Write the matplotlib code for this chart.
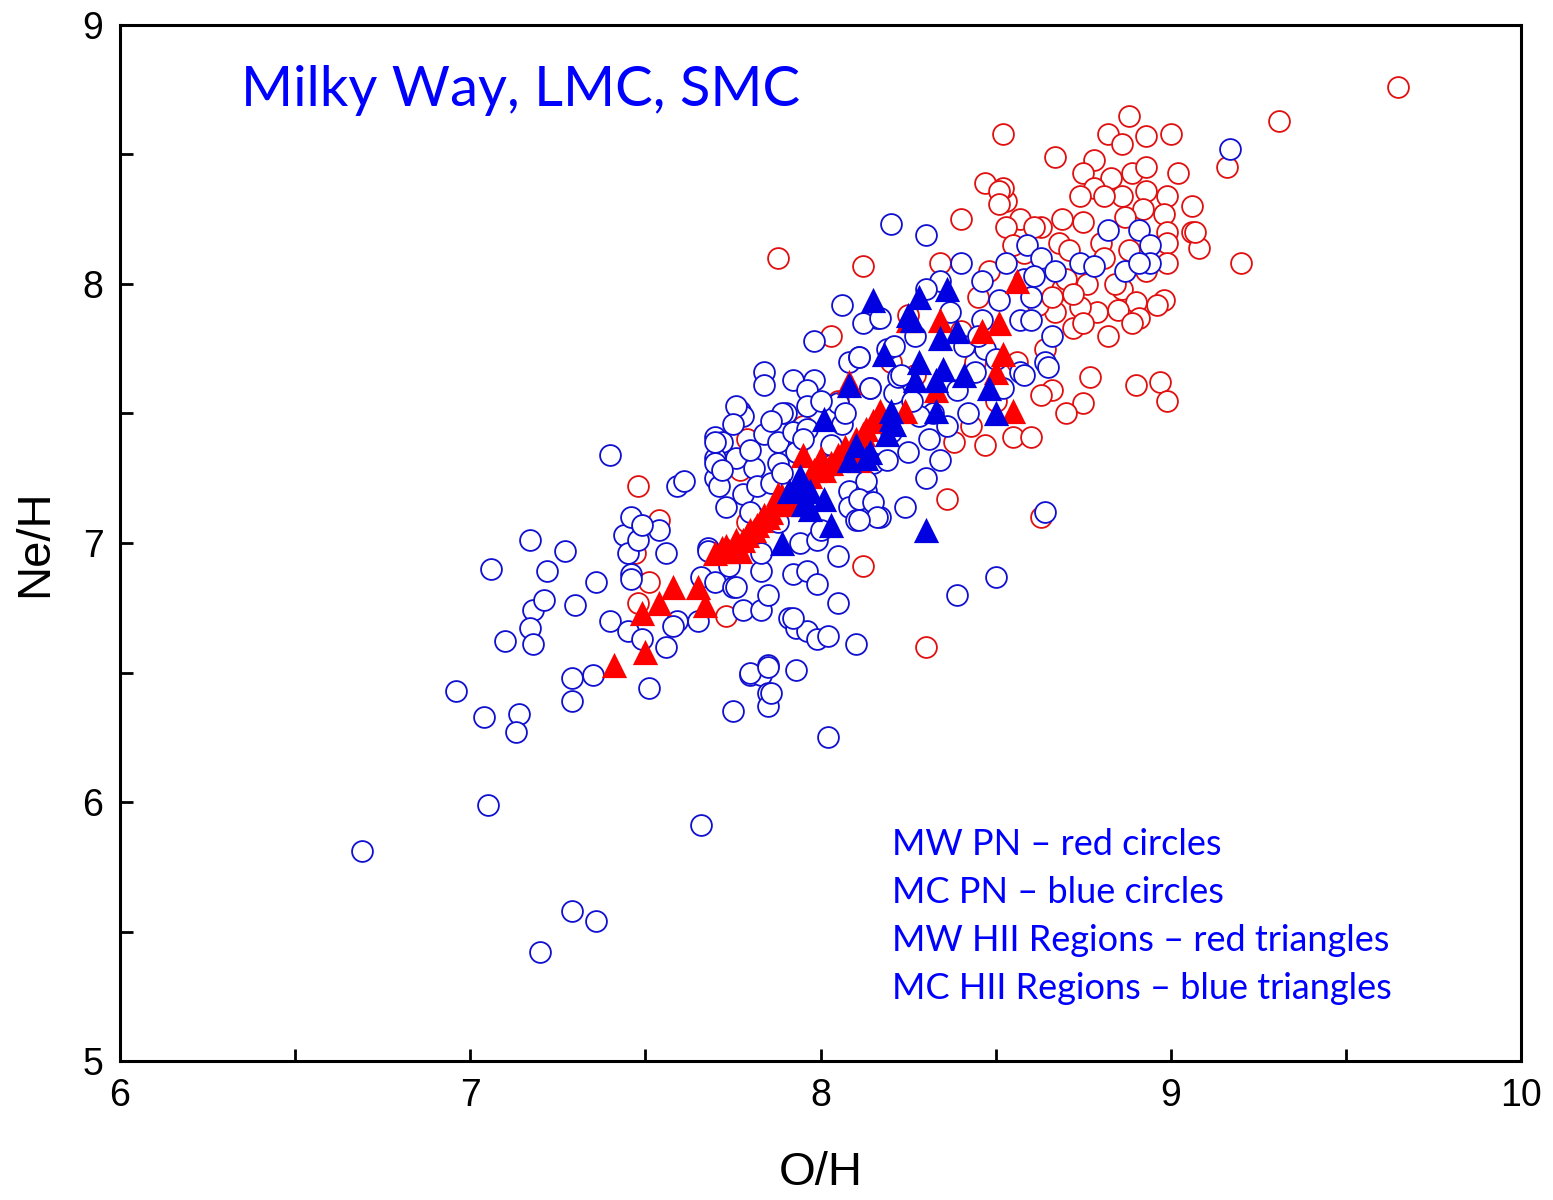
import numpy as np
import matplotlib.pyplot as plt
from matplotlib.ticker import MultipleLocator

# MW PN - red circles (O/H, Ne/H)
mw_pn_oh = [8.88, 8.82, 8.93, 9.00, 8.52, 8.67, 8.86, 8.78, 8.75, 8.83, 8.89, 8.93, 9.02,
            8.78, 8.93, 8.86, 8.74, 8.81, 8.99, 9.06, 8.98, 8.92, 8.87, 8.69, 8.63, 8.75,
            9.06, 8.99, 8.99, 9.08, 8.99, 9.20, 8.80, 8.68, 8.71, 8.88, 8.76, 8.86, 8.69,
            8.98, 8.96, 8.90, 8.85, 8.79, 8.74, 8.91, 8.89, 8.72, 8.75, 8.67, 8.77, 8.90,
            8.97, 8.99, 8.66, 8.75, 8.70, 8.55, 8.60, 8.57, 8.61, 8.53, 8.53, 8.52, 9.65,
            9.31, 9.16, 9.07, 7.88, 8.12, 8.40, 8.47, 8.51, 8.51, 7.48, 7.54, 7.48, 7.51,
            7.47, 7.73, 7.79, 7.77, 7.79, 8.12, 8.30, 8.63, 8.36, 8.38, 8.47, 8.03, 8.34,
            8.25, 8.40, 8.63, 8.45, 8.58, 8.70, 8.81, 8.84, 8.64, 8.56, 8.44, 8.62, 8.72,
            8.82, 8.93, 8.48, 8.55, 8.66, 8.20, 8.27, 8.43, 8.50, 7.95, 8.05]
mw_pn_neh = [8.65, 8.58, 8.57, 8.58, 8.58, 8.49, 8.54, 8.48, 8.43, 8.41, 8.43, 8.45, 8.43,
             8.37, 8.36, 8.34, 8.34, 8.34, 8.34, 8.30, 8.27, 8.29, 8.26, 8.25, 8.22, 8.24,
             8.20, 8.20, 8.16, 8.14, 8.08, 8.08, 8.16, 8.16, 8.13, 8.13, 8.00, 7.98, 7.98,
             7.94, 7.92, 7.93, 7.90, 7.89, 7.91, 7.87, 7.85, 7.83, 7.85, 7.89, 7.64, 7.61,
             7.62, 7.55, 7.59, 7.54, 7.50, 7.41, 7.41, 8.25, 8.22, 8.22, 8.32, 8.37, 8.76,
             8.63, 8.45, 8.20, 8.10, 8.07, 8.25, 8.39, 8.36, 8.31, 7.22, 7.09, 6.77, 6.85,
             6.96, 6.72, 7.40, 7.28, 7.08, 6.91, 6.60, 7.10, 7.17, 7.39, 7.38, 7.80, 8.08,
             7.88, 7.82, 7.57, 7.95, 8.12, 8.02, 8.10, 8.00, 7.75, 7.70, 7.70, 7.92, 7.96,
             7.80, 8.05, 8.05, 8.15, 7.95, 7.70, 7.65, 7.45, 7.55, 7.45, 7.55]

# MC PN - blue circles
mc_pn_oh = [6.69, 6.96, 7.04, 7.05, 7.06, 7.10, 7.14, 7.13, 7.17, 7.18, 7.17, 7.18, 7.21,
            7.22, 7.20, 7.27, 7.29, 7.29, 7.30, 7.29, 7.36, 7.36, 7.35, 7.40, 7.40, 7.44,
            7.45, 7.46, 7.46, 7.48, 7.45, 7.51, 7.54, 7.56, 7.56, 7.59, 7.59, 7.61, 7.66,
            7.65, 7.66, 7.75, 7.80, 7.83, 7.85, 7.85, 7.85, 7.93, 7.91, 7.93, 7.96, 7.99,
            8.02, 8.02, 8.05, 8.10, 8.39, 8.50, 8.64, 9.17, 8.20, 8.30,
            8.06, 8.16, 7.98, 7.84, 7.84, 7.92, 7.98, 7.96, 8.08, 8.11, 8.19, 7.77, 7.78,
            7.90, 7.96, 8.05, 8.14, 7.70, 7.72, 7.84, 7.88, 7.92, 7.96, 7.70, 7.76, 7.81,
            7.88, 7.93, 7.70, 7.71, 7.78, 7.82, 7.86, 7.73, 7.80, 8.08, 8.13, 8.08, 8.17,
            8.10, 7.94, 7.99, 7.68,
            8.40, 8.53, 8.59, 8.63, 8.46, 8.51, 8.58, 8.60, 8.34, 8.30, 8.37, 8.12, 8.17,
            8.57, 8.60, 8.46, 8.11, 8.21, 8.41, 8.47, 8.50, 8.57, 8.64, 8.14, 8.21, 8.39,
            8.44, 8.42, 8.32, 8.28, 8.20, 8.31, 8.25, 8.34, 8.15, 8.19, 8.30, 8.13, 8.11,
            8.15, 8.24, 8.16, 8.11,
            8.82, 8.91, 8.94, 8.74, 8.78, 8.87, 8.94, 8.91, 8.67, 8.61, 8.66, 8.65, 8.58,
            7.49, 7.46, 7.49, 7.58, 7.70, 7.70, 7.89, 7.76, 7.68, 7.70, 7.75, 7.76, 7.74,
            7.83, 7.78, 7.83, 7.85, 7.92, 7.80, 7.85, 7.86, 7.83, 7.92, 7.96, 7.99, 7.72,
            7.75, 7.80, 7.86, 7.89, 8.03, 8.06, 7.88, 8.00, 8.22, 8.26, 8.36, 8.45, 8.52,
            8.03, 8.07, 8.23, 8.27, 8.05, 8.00, 7.95]
mc_pn_neh = [5.81, 6.43, 6.33, 5.99, 6.90, 6.62, 6.34, 6.27, 7.01, 6.74, 6.67, 6.61, 6.78,
             6.89, 5.42, 6.97, 6.48, 6.39, 6.76, 5.58, 5.54, 6.85, 6.49, 7.34, 6.70, 7.03,
             6.96, 6.88, 7.10, 7.01, 6.66, 6.44, 7.05, 6.96, 6.60, 6.70, 7.22, 7.24, 5.91,
             6.70, 6.87, 6.35, 6.49, 6.49, 6.53, 6.42, 6.37, 6.51, 6.71, 6.67, 6.66, 6.63,
             6.64, 6.25, 6.77, 6.61, 6.80, 6.87, 7.12, 8.52, 8.23, 8.19,
             7.92, 7.87, 7.78, 7.66, 7.61, 7.63, 7.63, 7.59, 7.70, 7.72, 7.75, 7.51, 7.49,
             7.50, 7.53, 7.54, 7.60, 7.41, 7.39, 7.42, 7.39, 7.43, 7.44, 7.33, 7.33, 7.29,
             7.31, 7.35, 7.25, 7.22, 7.19, 7.22, 7.23, 7.14, 7.12, 7.20, 7.20, 7.14, 7.10,
             7.09, 7.00, 7.01, 6.98,
             8.08, 8.08, 8.15, 8.10, 8.01, 7.94, 8.02, 7.95, 8.01, 7.98, 7.89, 7.85, 7.87,
             7.86, 7.86, 7.86, 7.72, 7.76, 7.76, 7.75, 7.71, 7.66, 7.70, 7.60, 7.58, 7.59,
             7.66, 7.50, 7.50, 7.49, 7.43, 7.40, 7.35, 7.32, 7.31, 7.32, 7.25, 7.24, 7.17,
             7.16, 7.14, 7.10, 7.09,
             8.21, 8.21, 8.15, 8.08, 8.07, 8.05, 8.08, 8.08, 8.05, 8.03, 7.80, 7.68, 7.65,
             7.07, 6.86, 6.63, 6.68, 7.39, 7.31, 7.50, 7.53, 6.97, 6.85, 6.83, 6.83, 6.91,
             6.89, 6.74, 6.74, 6.80, 6.71, 6.50, 6.52, 6.42, 6.96, 6.88, 6.89, 6.84, 7.28,
             7.46, 7.36, 7.47, 7.27, 7.38, 7.46, 7.08, 7.55, 7.64, 7.55, 7.45, 7.80, 7.60,
             7.30, 7.50, 7.65, 7.80, 6.95, 7.05, 7.40]

# MW HII regions - red triangles
mw_hii_oh = [7.41, 7.50, 7.49, 7.54, 7.58, 7.65, 7.67, 7.72, 7.74, 7.77, 7.76, 7.78, 7.81,
             7.83, 7.86, 7.87, 7.89, 7.91, 7.94, 7.98, 8.00, 8.01, 8.03, 8.07, 8.10, 8.08,
             8.13, 8.15, 8.17, 8.24, 8.25, 8.33, 8.34, 8.46, 8.51, 8.50, 8.52, 8.55, 8.56,
             8.11, 7.95, 7.92, 7.88, 7.84, 7.80,
             7.70, 7.73, 7.79, 7.82, 7.85, 7.90, 7.93, 7.97, 8.00, 8.05, 8.12, 8.16]
mw_hii_neh = [6.53, 6.58, 6.73, 6.77, 6.83, 6.83, 6.76, 6.98, 6.97, 6.97, 7.01, 7.01, 7.05,
              7.09, 7.12, 7.15, 7.18, 7.20, 7.24, 7.28, 7.33, 7.28, 7.31, 7.37, 7.40, 7.62,
              7.44, 7.47, 7.51, 7.51, 7.86, 7.59, 7.86, 7.82, 7.85, 7.66, 7.73, 7.51, 8.01,
              7.32, 7.34, 7.15, 7.19, 7.11, 7.05,
              6.96, 6.99, 7.03, 7.07, 7.10, 7.16, 7.22, 7.26, 7.30, 7.34, 7.42, 7.48]

# MC HII regions - blue triangles
mc_hii_oh = [8.15, 8.26, 8.28, 8.36, 8.18, 8.25, 8.39, 8.34, 8.28, 8.35, 8.33, 8.27, 8.41,
             8.48, 8.50, 8.33, 8.20, 8.20, 8.21, 8.19, 8.10, 8.14, 8.13, 8.08, 8.01, 7.94,
             7.97, 7.91, 7.95, 7.97, 8.01, 8.03, 7.89, 8.30, 8.08, 7.94]
mc_hii_neh = [7.94, 7.86, 7.95, 7.98, 7.73, 7.88, 7.82, 7.79, 7.70, 7.67, 7.63, 7.63, 7.65,
              7.60, 7.50, 7.51, 7.51, 7.48, 7.46, 7.42, 7.38, 7.35, 7.33, 7.32, 7.48, 7.22,
              7.20, 7.20, 7.15, 7.13, 7.17, 7.07, 7.00, 7.05, 7.61, 7.26]

fig = plt.figure(figsize=(15.53, 12), dpi=100)
ax = fig.add_axes([0.0773, 0.1158, 0.9021, 0.8634])

circ = dict(marker='o', s=225, facecolors='white', linewidths=1.3)
ax.scatter(mw_pn_oh, mw_pn_neh, edgecolors='#e01010', **circ)
ax.scatter(mc_pn_oh, mc_pn_neh, edgecolors='#1010d0', **circ)
ax.scatter(mw_hii_oh, mw_hii_neh, marker='^', s=330, color='#ff0000', linewidths=0)
ax.scatter(mc_hii_oh, mc_hii_neh, marker='^', s=330, color='#0000e0', linewidths=0)

ax.set_xlim(6, 10)
ax.set_ylim(5, 9)
ax.xaxis.set_major_locator(MultipleLocator(1))
ax.xaxis.set_minor_locator(MultipleLocator(0.5))
ax.yaxis.set_major_locator(MultipleLocator(1))
ax.yaxis.set_minor_locator(MultipleLocator(0.5))
ax.tick_params(which='both', direction='in', width=2, labelsize=27,
               labelfontfamily='Liberation Sans')
ax.tick_params(which='major', length=9, pad=12)
ax.tick_params(which='minor', length=9)
for sp in ax.spines.values():
    sp.set_linewidth(2.2)

ax.set_xlabel('O/H', fontsize=34, family='Liberation Sans', labelpad=27)
ax.set_ylabel('Ne/H', fontsize=34, family='Liberation Sans', labelpad=18)

ax.text(0.086, 0.937, 'Milky Way, LMC, SMC', transform=ax.transAxes, color='#0000ff',
        fontsize=40.5, family='Lato', va='center')
legend_lines = ['MW PN \u2013 red circles', 'MC PN \u2013 blue circles',
                'MW HII Regions \u2013 red triangles', 'MC HII Regions \u2013 blue triangles']
for i, t in enumerate(legend_lines):
    ax.text(0.551, 0.209 - i * 0.0463, t, transform=ax.transAxes, color='#0000ff',
            fontsize=26, family='Lato', va='center')

plt.savefig('out.png', dpi=100)
